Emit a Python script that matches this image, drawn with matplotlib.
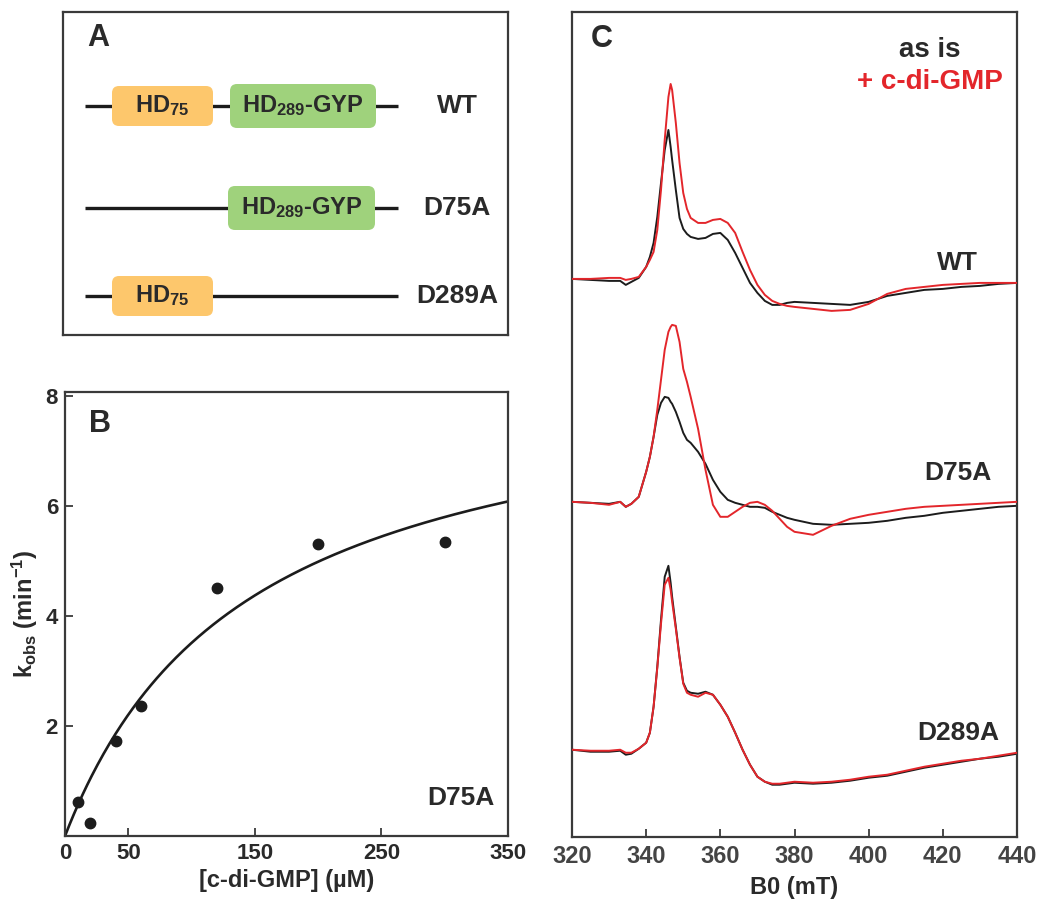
import numpy as np
import matplotlib.pyplot as plt
from matplotlib.patches import FancyBboxPatch

plt.rcParams['font.family'] = ['Liberation Sans', 'DejaVu Sans']
plt.rcParams['font.weight'] = 'bold'
plt.rcParams['axes.labelweight'] = 'bold'
plt.rcParams['mathtext.fontset'] = 'custom'
plt.rcParams['mathtext.rm'] = 'Liberation Sans:bold'
plt.rcParams['mathtext.it'] = 'Liberation Sans:bold'
plt.rcParams['mathtext.bf'] = 'Liberation Sans:bold'
plt.rcParams['mathtext.sf'] = 'Liberation Sans:bold'

TXT = '#2a2a2a'
AX = '#3a3a3a'
RED = '#e3262b'
BLACK = '#1c1c1c'
domain_colors = {'HD75': '#fdc76c', 'HD289-GYP': '#9fd27c'}
domain_text = {'HD75': 'HD$_{75}$', 'HD289-GYP': 'HD$_{289}$-GYP'}

# ---- panel A: construct layout (schematic units) ----
constructs = ['WT', 'D75A', 'D289A']
row_y = [94, 196, 284]
chain_span = (22, 335)
domains = {
    'WT': [('HD75', 49, 150), ('HD289-GYP', 167, 313)],
    'D75A': [('HD289-GYP', 165, 312)],
    'D289A': [('HD75', 49, 150)],
}
domain_height = {'HD75': 40, 'HD289-GYP': 44}

# ---- panel B: kobs vs c-di-GMP ----
conc = [10, 20, 40, 60, 120, 200, 300]
kobs = [0.62, 0.23, 1.73, 2.37, 4.50, 5.31, 5.35]
kmax_fit, kd_fit = 8.6, 145.0

# ---- panel C: EPR spectra (relative to each trace's left baseline) ----
field = [320, 325, 330, 333, 334.5, 336, 338,
         340, 341, 342, 343, 344, 345, 346, 346.6, 347, 348, 349, 350, 351, 352,
         354, 356, 358, 360, 362, 364, 366, 368, 370, 372, 374, 376, 378, 380,
         385, 390, 395, 400, 405, 410, 415, 420, 425, 430, 435, 440]

wt_asis = [0, -1, -2, -2, -6, -3, 1,
           12, 22, 36, 62, 96, 129, 149, 132, 119, 89, 61, 50, 45, 42,
           40, 41, 45, 46, 39, 26, 11, -4, -14, -22, -26, -26, -24, -23,
           -24, -25, -26, -23, -17, -14, -11, -10, -8, -7, -5, -4]
wt_cdg = [0, 0, 1, 1, -1, 0, 2,
          12, 19, 27, 49, 89, 139, 182, 195, 189, 156, 116, 86, 70, 61,
          56, 56, 59, 60, 56, 46, 27, 9, -6, -16, -22, -25, -27, -28,
          -30, -32, -31, -25, -15, -10, -8, -6, -5, -4, -4, -4]

d75a_asis = [0, -1, -2, 0, -5, -2, 5,
             30, 45, 65, 87, 99, 105, 104, 100, 98, 90, 80, 69, 62, 59,
             50, 38, 22, 10, 2, -1, -3, -5, -5, -6, -10, -13, -16, -18,
             -22, -23, -22, -21, -19, -16, -14, -11, -9, -7, -5, -4]
d75a_cdg = [0, -1, -3, 0, -5, -2, 5,
            30, 45, 65, 92, 122, 152, 170, 175, 177, 176, 160, 133, 120, 105,
            73, 32, -3, -15, -15, -10, -5, -1, 0, -3, -9, -17, -25, -30,
            -33, -24, -17, -13, -10, -7, -5, -4, -3, -2, -1, 0]

d289a_asis = [0, -2, -2, -1, -5, -4, 1,
              7, 17, 43, 83, 130, 173, 184, 167, 153, 123, 93, 67, 59, 57,
              56, 58, 55, 45, 33, 17, 0, -15, -27, -32, -35, -35, -34, -33,
              -34, -33, -31, -28, -26, -22, -18, -15, -12, -9, -7, -4]
d289a_cdg = [0, -1, -1, 0, -3, -3, 1,
             7, 17, 43, 82, 126, 165, 172, 160, 148, 121, 92, 66, 57, 55,
             53, 57, 55, 45, 33, 17, 0, -15, -27, -32, -34, -34, -33, -32,
             -33, -32, -30, -27, -25, -21, -17, -14, -11, -9, -6, -3]

spectra = [('WT', wt_asis, wt_cdg), ('D75A', d75a_asis, d75a_cdg), ('D289A', d289a_asis, d289a_cdg)]
offsets = {'WT': 558, 'D75A': 335, 'D289A': 87}

W, H = 1050, 918
fig = plt.figure(figsize=(W / 100, H / 100), dpi=100)


def frame(ax, lw=1.6):
    for s in ax.spines.values():
        s.set_color(AX)
        s.set_linewidth(lw)


# ---------------- A ----------------
axA = fig.add_axes([63 / W, 1 - 335 / H, 445 / W, 323 / H])
axA.set_xlim(0, 445)
axA.set_ylim(323, 0)
axA.set_xticks([])
axA.set_yticks([])
frame(axA)
for name, y in zip(constructs, row_y):
    axA.plot(chain_span, [y, y], color=BLACK, lw=2.4, solid_capstyle='butt', zorder=1)
    for dom, x0, x1 in domains[name]:
        h = domain_height[dom]
        axA.add_patch(FancyBboxPatch((x0, y - h / 2), x1 - x0, h,
                                     boxstyle='round,pad=0,rounding_size=7',
                                     fc=domain_colors[dom], ec='none', zorder=2))
        axA.text((x0 + x1) / 2, y, domain_text[dom], ha='center', va='center',
                 fontsize=17, color=TXT, zorder=3)
    axA.text(394, y, name, ha='center', va='center', fontsize=19, color=TXT)
axA.text(0.08, 0.92, 'A', transform=axA.transAxes, ha='center', va='center',
         fontsize=22, color=TXT)

# ---------------- B ----------------
axB = fig.add_axes([65 / W, 1 - 836 / H, 443 / W, 444 / H])
xs = np.linspace(0, 350, 300)
axB.plot(xs, kmax_fit * xs / (kd_fit + xs), color=BLACK, lw=1.9)
axB.plot(conc, kobs, 'o', color=BLACK, ms=7.5)
axB.set_xlim(0, 350)
axB.set_ylim(0, 8.07)
axB.set_xticks([0, 50, 150, 250, 350])
axB.set_yticks([2, 4, 6, 8])
axB.tick_params(direction='in', length=6, width=1.3, color=AX, labelsize=16,
                labelcolor=TXT, pad=5)
frame(axB)
axB.set_xlabel('[c-di-GMP] (\u00b5M)', fontsize=17, color=TXT, fontweight='bold', labelpad=4)
axB.set_ylabel('k$_{\\mathrm{obs}}$ (min$^{\\mathrm{-1}}$)', fontsize=17,
               color=TXT, fontweight='bold', labelpad=4)
axB.text(0.079, 0.928, 'B', transform=axB.transAxes, ha='center', va='center',
         fontsize=22, color=TXT)
axB.text(0.893, 0.086, 'D75A', transform=axB.transAxes, ha='center', va='center',
         fontsize=19, color=TXT)

# ---------------- C ----------------
axC = fig.add_axes([572 / W, 1 - 836.7 / H, 445 / W, 824.7 / H])
for name, asis, cdg in spectra:
    off = offsets[name]
    axC.plot(field, np.array(asis) + off, color=BLACK, lw=1.4, zorder=2)
    axC.plot(field, np.array(cdg) + off, color=RED, lw=1.4, zorder=3)
axC.set_xlim(320, 440)
axC.set_ylim(0, 825)
axC.set_xticks([320, 340, 360, 380, 400, 420, 440])
axC.set_yticks([])
axC.tick_params(direction='in', length=6, width=1.3, color=AX, labelsize=17,
                labelcolor='#444444', pad=6)
frame(axC)
axC.set_xlabel('B0 (mT)', fontsize=17, color=TXT, fontweight='bold', labelpad=6)
axC.text(0.067, 0.967, 'C', transform=axC.transAxes, ha='center', va='center',
         fontsize=22, color=TXT)
axC.text(0.8045, 0.954, 'as is', transform=axC.transAxes, ha='center', va='center',
         fontsize=20, color=TXT)
axC.text(0.8045, 0.915, '+ c-di-GMP', transform=axC.transAxes, ha='center', va='center',
         fontsize=20, color=RED)
label_y = {'WT': 0.696, 'D75A': 0.441, 'D289A': 0.126}
for name, _, _ in spectra:
    axC.text(0.867, label_y[name], name, transform=axC.transAxes, ha='center',
             va='center', fontsize=19, color=TXT)

fig.savefig('out.png', dpi=100)
